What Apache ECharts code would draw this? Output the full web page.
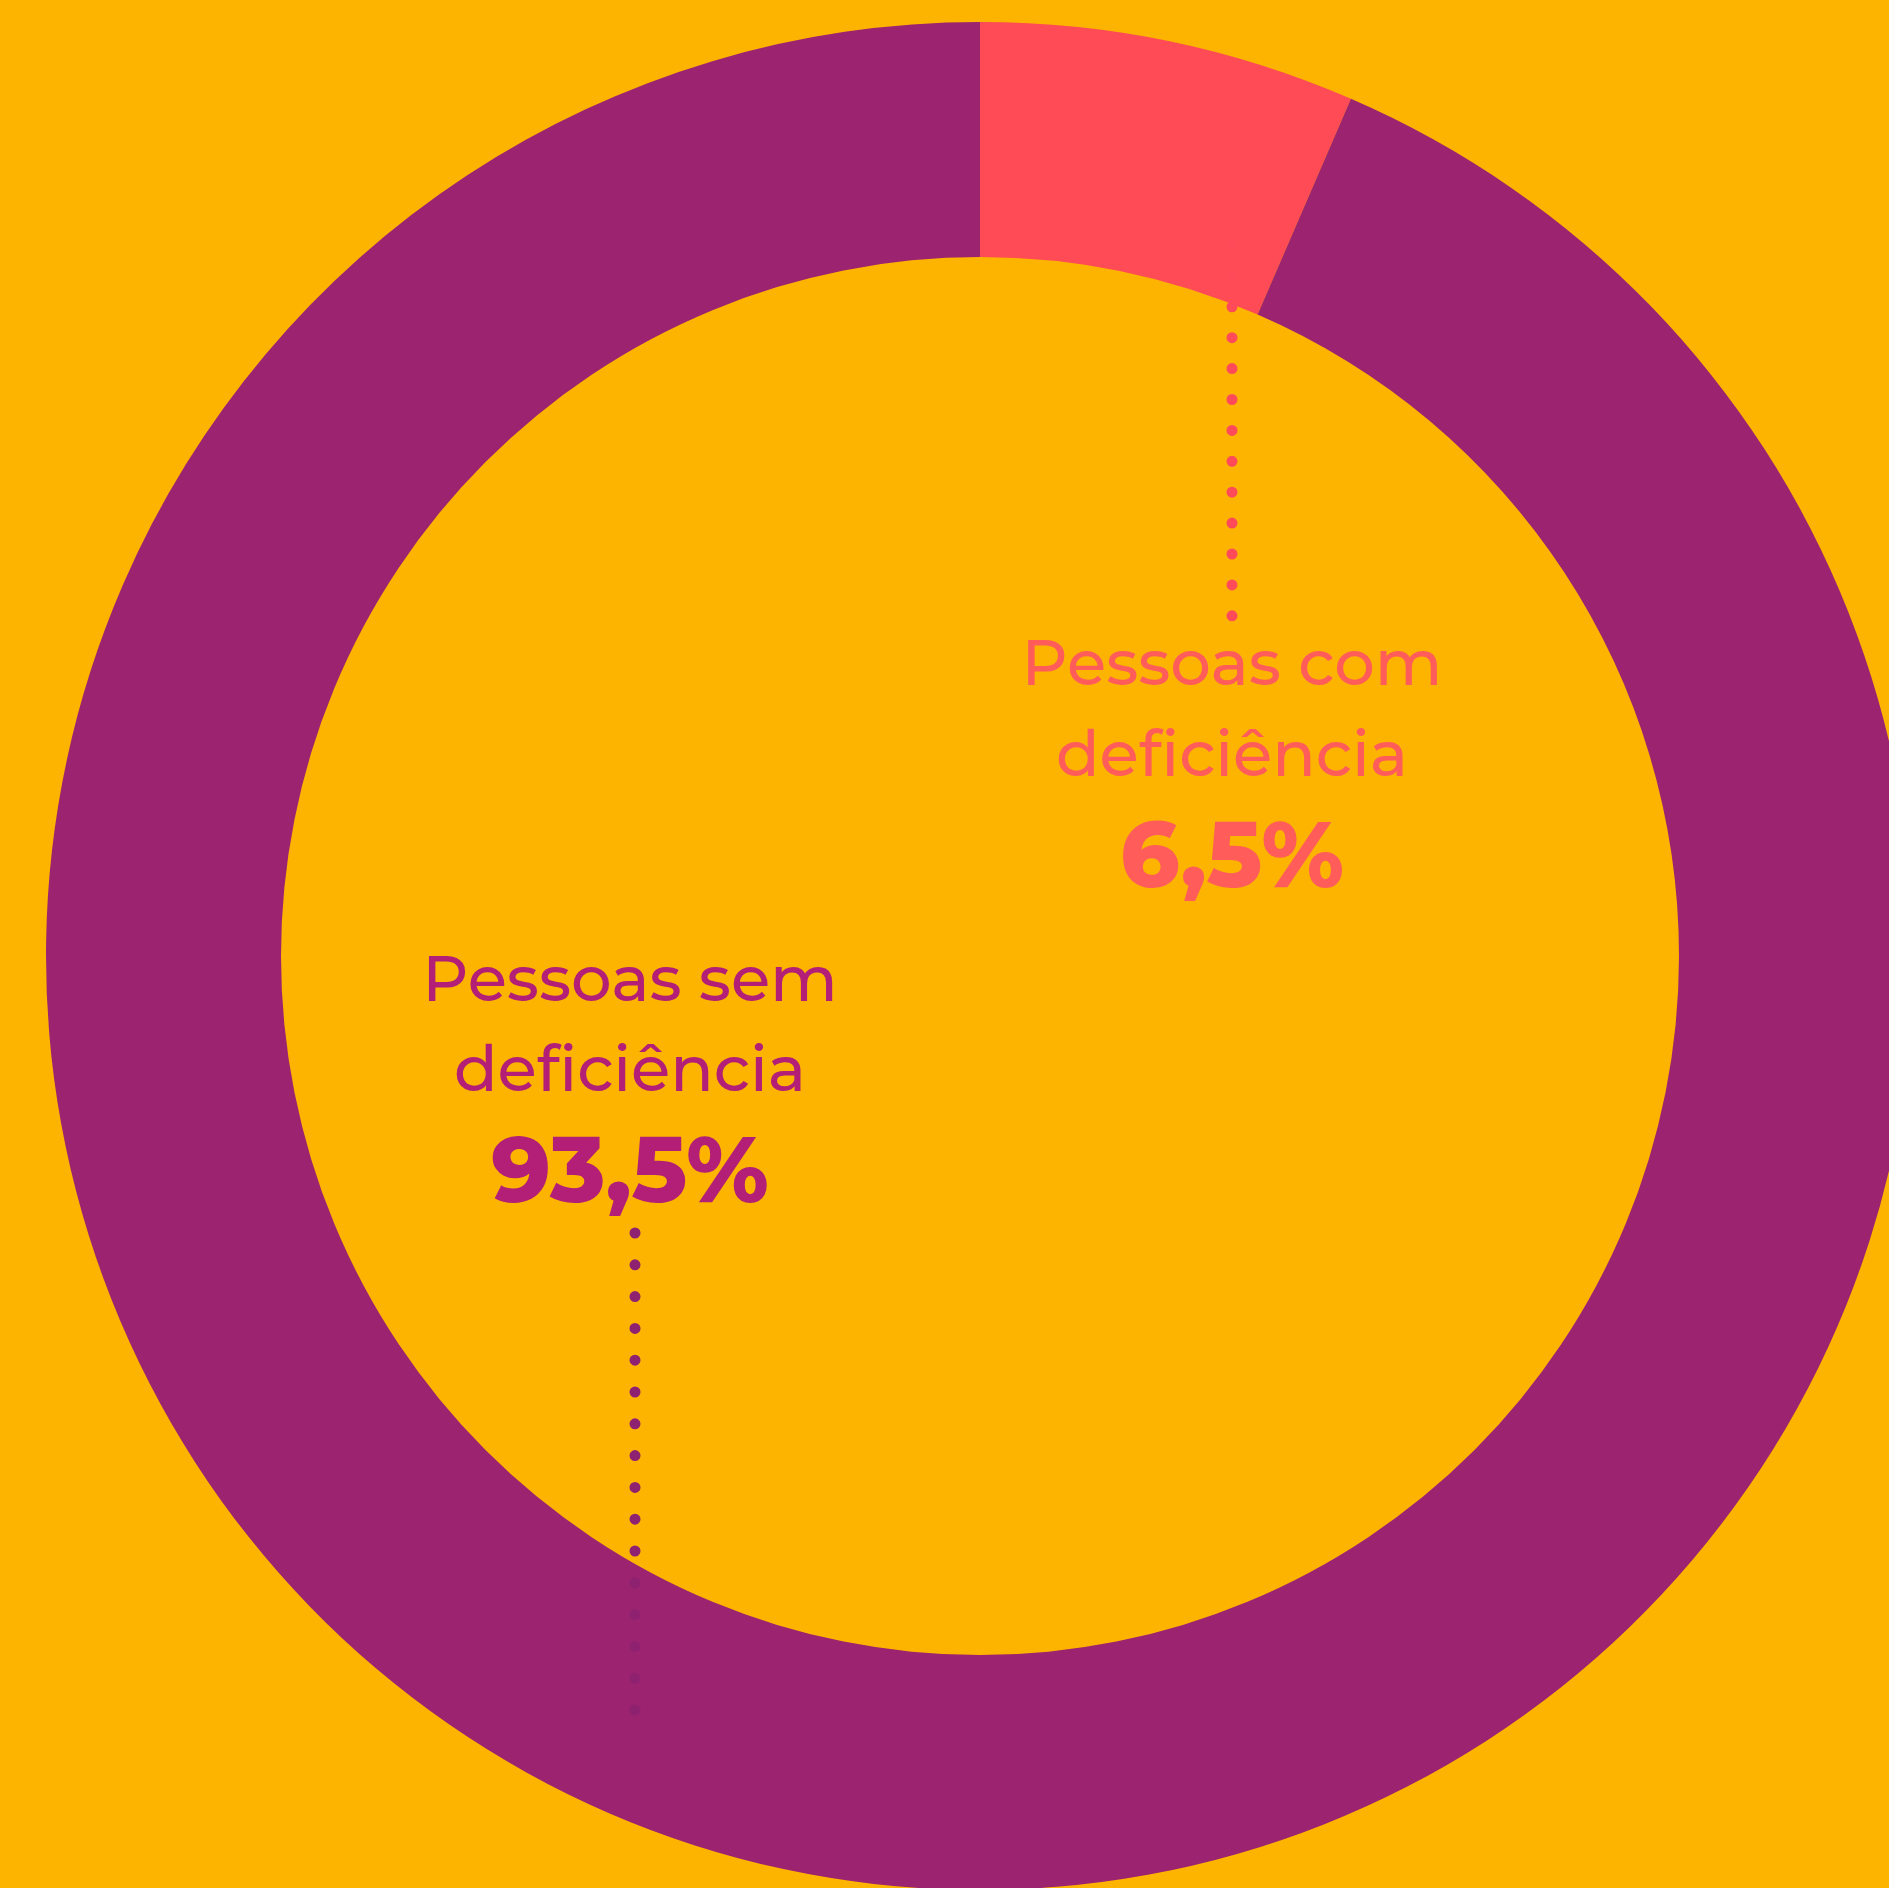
<!DOCTYPE html>
<html>
<head>
<meta charset="utf-8">
<script src="https://cdn.jsdelivr.net/npm/echarts@6/dist/echarts.min.js"></script>
<style>
html,body{margin:0;padding:0;background:#FDB400;}
#chart{width:1889px;height:1888px;}
</style>
</head>
<body>
<div id="chart"></div>
<script>
var categories = ['Pessoas com deficiência', 'Pessoas sem deficiência'];
var labelLines = [['Pessoas com', 'deficiência'], ['Pessoas sem', 'deficiência']];
var values = [6.5, 93.5];
var sliceColors = ['#FF4B55', '#9C2370'];
var textColors = ['#FF5C5A', '#B31E77'];
var dotColors = ['#FF4A5A', '#8E2271'];

function fmt(v){ return String(v).replace('.', ',') + '%'; }

var FONT = 'Montserrat, "DejaVu Sans", sans-serif';

var chart = echarts.init(document.getElementById('chart'), null, {renderer:'canvas'});

var graphics = [];
var anno = [
  {x: 1232, y1: 666, y2: 757, y3: 860, dot: [1232, 245, 619], gap: 30.9},
  {x: 630, y1: 982, y2: 1072, y3: 1175, dot: [635, 1233, 1713], gap: 31.8}
];
anno.forEach(function(a, i){
  graphics.push({
    type:'line', z: 100,
    shape:{x1:a.dot[0], y1:a.dot[1], x2:a.dot[0], y2:a.dot[2]},
    style:{stroke: dotColors[i], lineWidth: 11, lineCap:'round', lineDash:[0, a.gap]}
  });
  graphics.push({type:'text', z:100, x:a.x, y:a.y1, style:{text: labelLines[i][0], fill: textColors[i], font: '500 64px ' + FONT, textAlign:'center', textVerticalAlign:'middle'}});
  graphics.push({type:'text', z:100, x:a.x, y:a.y2, style:{text: labelLines[i][1], fill: textColors[i], font: '500 64px ' + FONT, textAlign:'center', textVerticalAlign:'middle'}});
  graphics.push({type:'text', z:100, x:a.x, y:a.y3, style:{text: fmt(values[i]), fill: textColors[i], font: '800 92px ' + FONT, textAlign:'center', textVerticalAlign:'middle'}});
});

chart.setOption({
  backgroundColor: '#FDB400',
  animation: false,
  series: [{
    type: 'pie',
    center: [980, 956],
    radius: [699, 934],
    startAngle: 90,
    clockwise: true,
    silent: true,
    label: {show: false},
    labelLine: {show: false},
    data: categories.map(function(c, i){
      return {name: c, value: values[i], itemStyle: {color: sliceColors[i]}};
    })
  }],
  graphic: graphics
});
</script>
</body>
</html>
